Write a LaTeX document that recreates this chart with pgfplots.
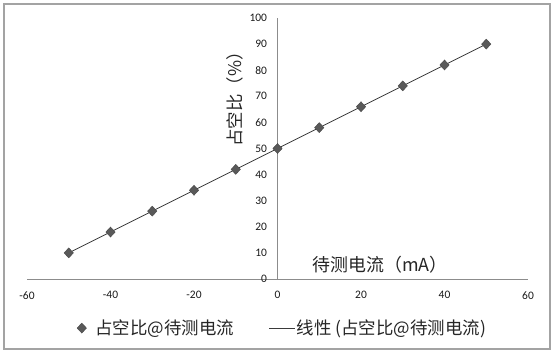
\documentclass[border=0pt]{standalone}
\usepackage{pgfplots}
\pgfplotsset{compat=1.18}
\usepackage{fontspec}
\setmainfont{Carlito}
\newfontfamily\cjk{Noto Sans CJK SC}
\definecolor{mk}{HTML}{595959}
\definecolor{ln}{HTML}{3A3A3A}
\definecolor{ax}{HTML}{8C8C8C}
\pgfplotsset{trendimg/.style={legend image code/.code={\draw[##1] (0bp,0bp) -- (26bp,0bp);}}}
\begin{document}
\begin{tikzpicture}[x=1bp,y=1bp]
\useasboundingbox (0,0) rectangle (554,353);
\fill[white] (0,0) rectangle (554,353);
\draw[color=ax!80, line width=1.2bp] (4,4) rectangle (550,349);
\begin{axis}[
 at={(27bp,74bp)}, anchor=south west,
 scale only axis, width=501bp, height=261bp,
 xmin=-60, xmax=60, ymin=0, ymax=100,
 axis lines=middle, axis line style={color=ax, line width=0.8bp, -},
 hide obscured x ticks=false, hide obscured y ticks=false,
 xtick={-60,-40,...,60}, ytick={0,10,...,100},
 major tick length=0pt,
 tick label style={font=\fontsize{11.5}{13}\selectfont, color=black!90},
 xticklabel style={yshift=-9bp},
 yticklabel style={xshift=-7bp},
 /pgf/number format/assume math mode=true,
 xlabel={{\cjk 待测电流（mA）}},
 xlabel style={at={(rel axis cs:0.705,0.054)}, anchor=center, font=\fontsize{18}{20}\selectfont, color=black!85},
 ylabel={{\cjk 占空比（\%）}},
 ylabel style={at={(rel axis cs:0.415,0.705)}, anchor=center, rotate=90, font=\fontsize{17.5}{19}\selectfont, color=black!85},
 legend style={at={(rel axis cs:0.509,-0.188)}, anchor=center, draw=none, fill=none,
   legend columns=2, font=\cjk\fontsize{17.5}{19}\selectfont, text=black!85,
   /tikz/every even column/.append style={column sep=34bp},
   nodes={inner xsep=1bp}},
 clip=false,
]
\addplot[only marks, mark=diamond*, mark size=5bp, mark options={xscale=1.25, fill=mk, draw=mk!80!black}]
 coordinates {(-50,10) (-40,18) (-30,26) (-20,34) (-10,42) (0,50) (10,58) (20,66) (30,74) (40,82) (50,90)};
\addlegendentry{\hspace{8bp}占空比@待测电流}
\addplot[ln, line width=0.8bp, no marks, trendimg] coordinates {(-50,10) (50,90)};
\addlegendentry{线性 (占空比@待测电流)}
\end{axis}
\end{tikzpicture}
\end{document}
